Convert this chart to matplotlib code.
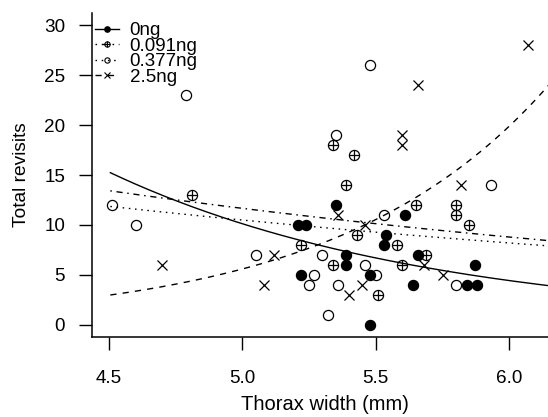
import numpy as np
import matplotlib
matplotlib.use("Agg")
import matplotlib.pyplot as plt
from matplotlib.lines import Line2D

plt.rcParams['font.family'] = ['Liberation Sans', 'DejaVu Sans']

# ---- data ----
x_0ng = [5.21, 5.24, 5.22, 5.35, 5.61, 5.54, 5.53, 5.39, 5.39, 5.66, 5.87, 5.48, 5.64, 5.84, 5.88, 5.48]
y_0ng = [10, 10, 5, 12, 11, 9, 8, 7, 6, 7, 6, 5, 4, 4, 4, 0]

x_091 = [4.81, 5.34, 5.42, 5.39, 5.65, 5.80, 5.80, 5.85, 5.43, 5.58, 5.22, 5.34, 5.69, 5.60, 5.51]
y_091 = [13, 18, 17, 14, 12, 12, 11, 10, 9, 8, 8, 6, 7, 6, 3]

x_377 = [4.51, 4.60, 4.79, 5.48, 5.35, 5.93, 5.53, 5.05, 5.30, 5.46, 5.27, 5.50, 5.25, 5.36, 5.80, 5.32]
y_377 = [12, 10, 23, 26, 19, 14, 11, 7, 7, 6, 5, 5, 4, 4, 4, 1]

x_25 = [6.07, 5.66, 5.60, 5.60, 5.82, 5.36, 5.46, 4.70, 5.12, 5.08, 5.68, 5.75, 5.45, 5.40]
y_25 = [28, 24, 19, 18, 14, 11, 10, 6, 7, 4, 6, 5, 4, 3]

labels = ["0ng", "0.091ng", "0.377ng", "2.5ng"]
# Poisson fit coefficients: log(mu) = a + b * thorax
fit_intercepts = [6.449, 3.871, 3.585, -4.630]
fit_slopes = [-0.827, -0.283, -0.247, 1.27]

xticks = [4.5, 5.0, 5.5, 6.0]
xtick_labels = ["4.5", "5.0", "5.5", "6.0"]
yticks = [0, 5, 10, 15, 20, 25, 30]

# ---- figure ----
fig = plt.figure(figsize=(5.48, 4.17), dpi=100)
W, H = 548, 417
x_left_px, x_right_px = 91.7, 558.6
y_top_px, y_bot_px = 13.3, 336.7
ax = fig.add_axes([x_left_px / W, 1 - y_bot_px / H,
                   (x_right_px - x_left_px) / W, (y_bot_px - y_top_px) / H])

lw = 1.0
u = 1.116
dash_styles = [None, (u, 3 * u, 4 * u, 3 * u), (u, 3 * u), (4 * u, 4 * u)]

ms = 7.3
mew = 0.9
# points
ax.plot(x_0ng, y_0ng, linestyle='none', marker='o', ms=ms, mfc='black', mec='black', mew=mew)
ax.plot(x_091, y_091, linestyle='none', marker='o', ms=ms, mfc='none', mec='black', mew=mew)
ax.plot(x_091, y_091, linestyle='none', marker='+', ms=ms, mec='black', mew=mew)
ax.plot(x_377, y_377, linestyle='none', marker='o', ms=ms, mfc='none', mec='black', mew=mew)
ax.plot(x_25, y_25, linestyle='none', marker='x', ms=ms, mec='black', mew=mew)

# fitted curves
xs = np.linspace(4.505, 6.3, 300)
for a, b, ds in zip(fit_intercepts, fit_slopes, dash_styles):
    ln, = ax.plot(xs, np.exp(a + b * xs), color='black', lw=lw)
    if ds is not None:
        ln.set_dashes(ds)

ax.set_xlim(4.5 + (x_left_px - 109) / 266.8, 4.5 + (x_right_px - 109) / 266.8)
ax.set_ylim(-1.2, 31.2)
ax.set_xticks(xticks)
ax.set_xticklabels(xtick_labels)
ax.set_yticks(yticks)
for s in ['top', 'right']:
    ax.spines[s].set_visible(False)
for s in ['left', 'bottom']:
    ax.spines[s].set_linewidth(1.1)
ax.tick_params(axis='both', direction='out', length=9.2, width=1.0, labelsize=13.6)
ax.tick_params(axis='x', pad=14.5)
ax.tick_params(axis='y', pad=10)
ax.set_xlabel("Thorax width (mm)", fontsize=14.5, labelpad=6)
ax.set_ylabel("Total revisits", fontsize=13.8, labelpad=10)

# legend
lms = 3.8
handles = [
    Line2D([], [], color='black', lw=lw, marker='o', ms=lms, mfc='black', mec='black'),
    (Line2D([], [], color='black', lw=lw, dashes=dash_styles[1], marker='o', ms=lms, mfc='none', mec='black', mew=0.8),
     Line2D([], [], linestyle='none', marker='+', ms=lms, mec='black', mew=0.8)),
    Line2D([], [], color='black', lw=lw, dashes=dash_styles[2], marker='o', ms=lms, mfc='none', mec='black', mew=0.8),
    Line2D([], [], color='black', lw=lw, dashes=dash_styles[3], marker='x', ms=lms, mec='black', mew=0.8),
]
leg = ax.legend(handles, labels, loc='upper left', frameon=False, fontsize=13.5,
                handlelength=1.3, handletextpad=0.55, labelspacing=-0.08,
                borderpad=0, borderaxespad=0,
                bbox_to_anchor=((95 - x_left_px) / (x_right_px - x_left_px), (y_bot_px - 22) / (y_bot_px - y_top_px)))

fig.savefig("out.png", dpi=100)
